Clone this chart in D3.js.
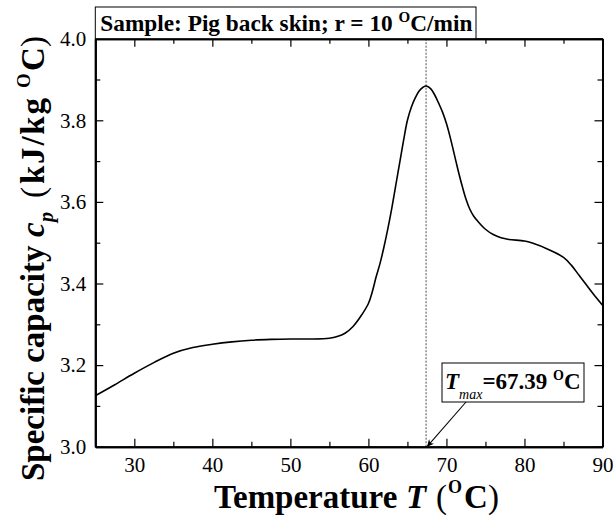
<!DOCTYPE html>
<html>
<head>
<meta charset="utf-8">
<script src="https://cdn.jsdelivr.net/npm/d3@7"></script>
<style>
  body { margin: 0; background: #fff; }
  svg { display: block; }
  svg text { font-family: "Liberation Serif", Tinos, "Times New Roman", Times, serif; }
</style>
</head>
<body>
<div id="chart"></div>
<script>
// temperature (C) and specific heat capacity (kJ/kg C)
const temps = [25, 27.5, 30, 32.5, 35, 37.5, 40, 42.5, 45, 47.5, 50, 52.5, 55, 56, 57, 58, 59, 60, 60.5, 61, 61.5, 62, 62.5, 63, 63.5, 64, 64.5, 65, 65.5, 66, 66.5, 67, 67.4, 68, 68.5, 69, 69.5, 70, 70.5, 71, 71.5, 72, 72.5, 73, 73.5, 74, 75, 76, 77, 78, 80, 81, 83, 85, 86, 87, 88, 89, 90];
const cpValues = [3.125, 3.152, 3.18, 3.206, 3.229, 3.243, 3.251, 3.257, 3.261, 3.263, 3.264, 3.264, 3.266, 3.27, 3.278, 3.294, 3.319, 3.351, 3.38, 3.417, 3.45, 3.49, 3.535, 3.585, 3.64, 3.695, 3.75, 3.8, 3.832, 3.855, 3.872, 3.881, 3.884, 3.877, 3.862, 3.842, 3.82, 3.792, 3.757, 3.717, 3.677, 3.64, 3.607, 3.582, 3.565, 3.553, 3.533, 3.52, 3.512, 3.508, 3.504, 3.499, 3.484, 3.464, 3.445, 3.42, 3.395, 3.37, 3.347];

const xMajor = [25, 30, 40, 50, 60, 70, 80, 90];
const xMinor = [35, 45, 55, 65, 75, 85];
const yMajor = [3.0, 3.2, 3.4, 3.6, 3.8, 4.0];
const yMinor = [3.1, 3.3, 3.5, 3.7, 3.9];

const tMax = 67.39;
const titleText = "Sample: Pig back skin; r = 10 ";

const W = 613, H = 517;
const margin = { top: 38.7, right: 10.5, bottom: 70.3, left: 95.3 };
const w = W - margin.left - margin.right;
const h = H - margin.top - margin.bottom;
const serif = '"Liberation Serif", Tinos, "Times New Roman", Times, serif';

const svg = d3.select("#chart").append("svg").attr("width", W).attr("height", H);

const defs = svg.append("defs");
defs.append("marker")
    .attr("id", "arrow")
    .attr("viewBox", "0 0 10 10")
    .attr("refX", 10).attr("refY", 5)
    .attr("markerWidth", 9).attr("markerHeight", 7)
    .attr("markerUnits", "userSpaceOnUse")
    .attr("orient", "auto")
    .append("path")
    .attr("d", "M0,0 L10,5 L0,10 L3,5 Z")
    .attr("fill", "#000");

const g = svg.append("g").attr("transform", `translate(${margin.left},${margin.top})`);

const x = d3.scaleLinear().domain([25, 90]).range([0, w]);
const y = d3.scaleLinear().domain([3.0, 4.0]).range([h, 0]);

// dotted marker of the peak temperature
g.append("line")
    .attr("x1", x(tMax)).attr("x2", x(tMax))
    .attr("y1", 0).attr("y2", h)
    .attr("stroke", "#000")
    .attr("stroke-width", 0.7)
    .attr("stroke-dasharray", "2,1.5");

// curve
const line = d3.line()
    .x((d, i) => x(temps[i]))
    .y(d => y(d))
    .curve(d3.curveCatmullRom.alpha(0.5));

g.append("path")
    .datum(cpValues)
    .attr("d", line)
    .attr("fill", "none")
    .attr("stroke", "#000")
    .attr("stroke-width", 1.6);

// axes, ticks inside on all four sides
function styleAxis(sel) {
    sel.attr("font-family", serif);
    sel.selectAll(".domain").attr("stroke-width", 2);
    sel.selectAll(".tick line").attr("stroke-width", 1.2);
    sel.selectAll("text").attr("font-size", 21).attr("fill", "#000");
}

g.append("g").attr("transform", `translate(0,${h})`)
    .call(d3.axisBottom(x).tickValues(xMajor.filter(d => d !== 25)).tickSizeInner(-8).tickSizeOuter(0).tickPadding(10).tickFormat(d3.format("d")))
    .call(styleAxis);
g.append("g").attr("transform", `translate(0,${h})`)
    .call(d3.axisBottom(x).tickValues(xMinor).tickSizeInner(-5).tickSizeOuter(0).tickFormat(""))
    .call(styleAxis);
g.append("g")
    .call(d3.axisTop(x).tickValues(xMajor).tickSizeInner(-8).tickSizeOuter(0).tickFormat(""))
    .call(styleAxis);
g.append("g")
    .call(d3.axisTop(x).tickValues(xMinor).tickSizeInner(-5).tickSizeOuter(0).tickFormat(""))
    .call(styleAxis);

g.append("g")
    .call(d3.axisLeft(y).tickValues(yMajor).tickSizeInner(-8).tickSizeOuter(0).tickPadding(9).tickFormat(d3.format(".1f")))
    .call(styleAxis);
g.append("g")
    .call(d3.axisLeft(y).tickValues(yMinor).tickSizeInner(-5).tickSizeOuter(0).tickFormat(""))
    .call(styleAxis);
g.append("g").attr("transform", `translate(${w},0)`)
    .call(d3.axisRight(y).tickValues(yMajor).tickSizeInner(-8).tickSizeOuter(0).tickFormat(""))
    .call(styleAxis);
g.append("g").attr("transform", `translate(${w},0)`)
    .call(d3.axisRight(y).tickValues(yMinor).tickSizeInner(-5).tickSizeOuter(0).tickFormat(""))
    .call(styleAxis);

// title box above the frame
const titleG = svg.append("g");
titleG.append("rect")
    .attr("x", margin.left).attr("y", 7)
    .attr("width", 476 - margin.left).attr("height", margin.top - 7)
    .attr("fill", "#fff").attr("stroke", "#000").attr("stroke-width", 1);
const title = titleG.append("text")
    .attr("x", margin.left + 5).attr("y", 31)
    .attr("font-family", serif)
    .attr("font-size", 23.3).attr("font-weight", "bold");
title.append("tspan").text(titleText);
title.append("tspan").attr("font-size", 15).attr("dy", -9).text("O");
title.append("tspan").attr("dy", 9).text("C/min");

// annotation of the peak
const annX = 442, annY = 363;
svg.append("rect")
    .attr("x", annX).attr("y", annY)
    .attr("width", 142).attr("height", 39)
    .attr("fill", "#fff").attr("stroke", "#000").attr("stroke-width", 1);
const ann = svg.append("text")
    .attr("x", annX + 3).attr("y", annY + 26)
    .attr("font-family", serif)
    .attr("font-size", 23).attr("font-weight", "bold");
ann.append("tspan").attr("font-style", "italic").text("T");
ann.append("tspan").attr("font-style", "italic").attr("font-weight", "normal").attr("font-size", 14).attr("dy", 10).text("max");
ann.append("tspan").attr("dy", -10).text("=67.39 ");
ann.append("tspan").attr("font-size", 14).attr("dy", -9).text("O");
ann.append("tspan").attr("dy", 9).text("C");

svg.append("line")
    .attr("x1", 466).attr("y1", annY + 39)
    .attr("x2", margin.left + x(tMax) + 1).attr("y2", margin.top + h)
    .attr("stroke", "#000").attr("stroke-width", 1.1)
    .attr("marker-end", "url(#arrow)");

// x axis title
const xt = svg.append("text")
    .attr("y", 508)
    .attr("font-family", serif)
    .attr("font-size", 33).attr("font-weight", "bold");
xt.append("tspan").attr("x", 214).text("Temperature");
xt.append("tspan").attr("x", 406).attr("font-style", "italic").text("T");
xt.append("tspan").attr("x", 436).attr("font-weight", "normal").text("(");
xt.append("tspan").attr("x", 448).attr("font-size", 18).attr("dy", -15).text("O");
xt.append("tspan").attr("x", 464).attr("dy", 15).text("C");
xt.append("tspan").attr("x", 488).attr("font-weight", "normal").text(")");

// y axis title (positions along the rotated baseline)
const yt = svg.append("text")
    .attr("transform", "translate(44,481) rotate(-90)")
    .attr("font-family", serif)
    .attr("font-size", 33).attr("font-weight", "bold");
yt.append("tspan").attr("x", 0).text("Specific capacity");
yt.append("tspan").attr("x", 244).attr("font-style", "italic").text("c");
yt.append("tspan").attr("x", 259).attr("font-style", "italic").attr("font-size", 20).attr("dy", 9).text("p");
yt.append("tspan").attr("x", 283).attr("dy", -9).attr("font-weight", "normal").text("(");
yt.append("tspan").attr("x", 297).attr("textLength", 86).text("kJ/kg");
yt.append("tspan").attr("x", 393).attr("font-size", 19).attr("dy", -14).text("O");
yt.append("tspan").attr("x", 410).attr("dy", 14).text("C");
yt.append("tspan").attr("x", 434).attr("font-weight", "normal").text(")");
</script>
</body>
</html>
